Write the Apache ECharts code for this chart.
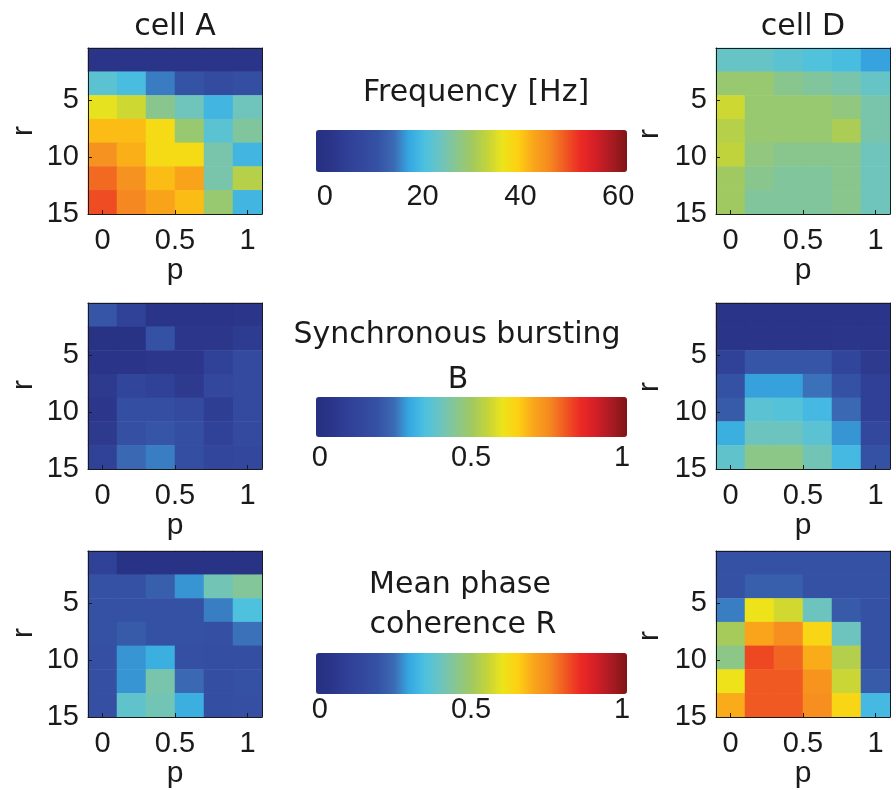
<!DOCTYPE html>
<html>
<head>
<meta charset="utf-8">
<title>cell A / cell D</title>
<script src="https://cdn.jsdelivr.net/npm/echarts@6/dist/echarts.min.js"></script>
<style>
html, body { margin: 0; padding: 0; background: #fff; }
#main { width: 896px; height: 790px; }
</style>
</head>
<body>
<div id="main"></div>
<script>
// categories
var pVals = ['0', '0.2', '0.4', '0.6', '0.8', '1'];
var rRows = ['1', '3', '5', '7', '9', '11', '13'];
// tick labels
var pTicks = [0, 0.5, 1];
var rTicks = [5, 10, 15];
var freqTicks = [0, 20, 40, 60];
var unitTicks = [0, 0.5, 1];

// rows top -> bottom (small r -> large r), columns p = 0 .. 1
var freqA = [
    [1, 1, 1, 1, 1, 1],
    [22, 20, 15, 11, 9, 10],
    [36, 34, 27, 24, 19, 24],
    [41, 41, 38, 29, 22, 26],
    [45, 42, 38, 38, 25, 19],
    [48, 45, 41, 43, 25, 32],
    [50, 46, 43, 41, 29, 19]
];
var freqD = [
    [23, 23, 22, 21, 20, 17],
    [29, 29, 27, 26, 25, 23],
    [34, 29, 29, 29, 28, 25],
    [32, 29, 29, 29, 31, 25],
    [33, 28, 27, 27, 27, 24],
    [30, 27, 26, 26, 27, 24],
    [30, 26, 26, 26, 27, 24]
];
var burstA = [
    [0.20, 0.10, 0.03, 0.03, 0.03, 0.04],
    [0.02, 0.02, 0.19, 0.05, 0.05, 0.07],
    [0.03, 0.03, 0.05, 0.05, 0.10, 0.15],
    [0.06, 0.12, 0.10, 0.06, 0.14, 0.15],
    [0.05, 0.17, 0.17, 0.15, 0.08, 0.15],
    [0.06, 0.18, 0.20, 0.17, 0.10, 0.15],
    [0.10, 0.24, 0.26, 0.17, 0.13, 0.14]
];
var burstD = [
    [0.03, 0.03, 0.03, 0.03, 0.03, 0.03],
    [0.03, 0.03, 0.03, 0.03, 0.04, 0.04],
    [0.10, 0.20, 0.20, 0.20, 0.12, 0.06],
    [0.19, 0.29, 0.29, 0.25, 0.19, 0.09],
    [0.21, 0.37, 0.36, 0.33, 0.24, 0.09],
    [0.31, 0.40, 0.40, 0.37, 0.28, 0.14],
    [0.38, 0.46, 0.46, 0.41, 0.33, 0.19]
];
var cohA = [
    [0.10, 0.02, 0.02, 0.02, 0.02, 0.02],
    [0.19, 0.19, 0.22, 0.28, 0.41, 0.44],
    [0.19, 0.19, 0.19, 0.19, 0.26, 0.35],
    [0.19, 0.21, 0.19, 0.19, 0.18, 0.25],
    [0.18, 0.28, 0.31, 0.18, 0.17, 0.17],
    [0.18, 0.28, 0.42, 0.24, 0.17, 0.19],
    [0.18, 0.38, 0.41, 0.31, 0.17, 0.18]
];
var cohD = [
    [0.19, 0.19, 0.19, 0.19, 0.19, 0.19],
    [0.19, 0.22, 0.22, 0.19, 0.19, 0.19],
    [0.26, 0.61, 0.57, 0.40, 0.21, 0.19],
    [0.51, 0.71, 0.75, 0.64, 0.40, 0.19],
    [0.46, 0.83, 0.80, 0.70, 0.53, 0.19],
    [0.61, 0.81, 0.81, 0.74, 0.56, 0.21],
    [0.70, 0.81, 0.81, 0.75, 0.64, 0.33]
];

// jet-like colour map, evenly spaced stops
var jet = ['#262f80', '#2b3589', '#2f4096', '#33489d', '#3552a4', '#3b6ab4', '#36a8e2',
    '#4cc1e0', '#6cc4c0', '#88c690', '#a0c962', '#c3d43a', '#ece41b', '#fdd012',
    '#f9a51b', '#f58a20', '#f05a22', '#ec2a25', '#d21f26', '#a91b22', '#7f1517'];

var ink = '#1a1a1a';
var numFont = 'Liberation Sans';
var textFont = 'DejaVu Sans';

function toCells(m) {
    var out = [];
    for (var i = 0; i < m.length; i++) {
        for (var j = 0; j < m[i].length; j++) {
            out.push([j, i, m[i][j]]);
        }
    }
    return out;
}

var heatLeft = [88, 716];
var heatTop = [48, 303, 551];
var mats = [freqA, freqD, burstA, burstD, cohA, cohD];

var grids = [], xAxes = [], yAxes = [], series = [];
var lineStyle = { color: ink, width: 1 };

for (var g = 0; g < 6; g++) {
    grids.push({ left: heatLeft[g % 2], top: heatTop[Math.floor(g / 2)], width: 174, height: 166 });
    // category axes carry the cells (hidden labels, used as top/right box lines)
    xAxes.push({
        type: 'category', gridIndex: g, data: pVals, position: 'top', z: 5,
        axisLine: { show: true, onZero: false, lineStyle: lineStyle },
        axisTick: { show: false }, axisLabel: { show: false }, splitLine: { show: false }
    });
    xAxes.push({
        type: 'value', gridIndex: g, min: -0.1, max: 1.1, position: 'bottom', z: 5,
        axisLine: { show: true, onZero: false, lineStyle: lineStyle },
        axisTick: { show: true, inside: true, length: 4, customValues: pTicks, lineStyle: lineStyle },
        axisLabel: { customValues: pTicks, margin: 12, fontSize: 29, color: ink, fontFamily: numFont },
        splitLine: { show: false },
        name: 'p', nameLocation: 'middle', nameGap: 31,
        nameTextStyle: { fontSize: 30, color: ink, fontFamily: numFont }
    });
    yAxes.push({
        type: 'category', gridIndex: g, data: rRows, inverse: true, position: 'right', z: 5,
        axisLine: { show: true, onZero: false, lineStyle: lineStyle },
        axisTick: { show: false }, axisLabel: { show: false }, splitLine: { show: false }
    });
    yAxes.push({
        type: 'value', gridIndex: g, min: 0.4, max: 15, inverse: true, position: 'left', z: 5,
        axisLine: { show: true, onZero: false, lineStyle: lineStyle },
        axisTick: { show: true, inside: true, length: 4, customValues: rTicks, lineStyle: lineStyle },
        axisLabel: { customValues: rTicks, margin: 9, fontSize: 29, color: ink, fontFamily: numFont },
        splitLine: { show: false }
    });
    series.push({
        type: 'heatmap', xAxisIndex: 2 * g, yAxisIndex: 2 * g,
        data: toCells(mats[g]),
        itemStyle: { borderWidth: 0 },
        emphasis: { disabled: true }
    });
}

// colour bars: visualMap draws the bar, a bare grid gives its tick labels
var barTop = [130, 397, 653];
var barHeight = [42, 40, 41];
var barRange = [[-1.8, 61.8], [-0.013, 1.016], [-0.013, 1.016]];
var barTicks = [freqTicks, unitTicks, unitTicks];
var barMargin = [10, 6, 1];
var visualMaps = [];

for (var k = 0; k < 3; k++) {
    grids.push({ left: 316, top: barTop[k], width: 311, height: barHeight[k] });
    xAxes.push({
        type: 'value', gridIndex: 6 + k, min: barRange[k][0], max: barRange[k][1], position: 'bottom',
        axisLine: { show: false }, axisTick: { show: false }, splitLine: { show: false },
        axisLabel: { customValues: barTicks[k], margin: barMargin[k], fontSize: 29, color: ink, fontFamily: numFont }
    });
    yAxes.push({ type: 'value', gridIndex: 6 + k, show: false });
    visualMaps.push({
        type: 'continuous', seriesIndex: [2 * k, 2 * k + 1],
        min: barRange[k][0], max: barRange[k][1],
        orient: 'horizontal', left: 316, top: barTop[k],
        itemWidth: barHeight[k], itemHeight: 311, padding: 0,
        calculable: false, hoverLink: false, text: null,
        inRange: { color: jet }
    });
}

function label(txt, x, y, font) {
    return {
        type: 'text', x: x, y: y,
        style: { text: txt, font: '30px "' + (font || textFont) + '"', fill: ink, align: 'center', verticalAlign: 'middle' }
    };
}

// y axis name "r", turned to read bottom-to-top as in the source figure
function rName(x, y) {
    var t = label('r', x, y, numFont);
    t.rotation = Math.PI / 2;
    return t;
}

var myChart = echarts.init(document.getElementById('main'));
var option = {
    animation: false,
    backgroundColor: '#fff',
    grid: grids,
    xAxis: xAxes,
    yAxis: yAxes,
    visualMap: visualMaps,
    series: series,
    graphic: [
        label('cell A', 175, 27),
        label('cell D', 803, 27),
        label('Frequency [Hz]', 476, 93),
        label('Synchronous bursting', 457, 335),
        label('B', 458, 380),
        label('Mean phase', 460, 585),
        label('coherence R', 463, 625),
        rName(24, 131), rName(650, 134),
        rName(24, 385), rName(650, 387),
        rName(24, 633), rName(650, 636)
    ]
};
myChart.setOption(option);
</script>
</body>
</html>
